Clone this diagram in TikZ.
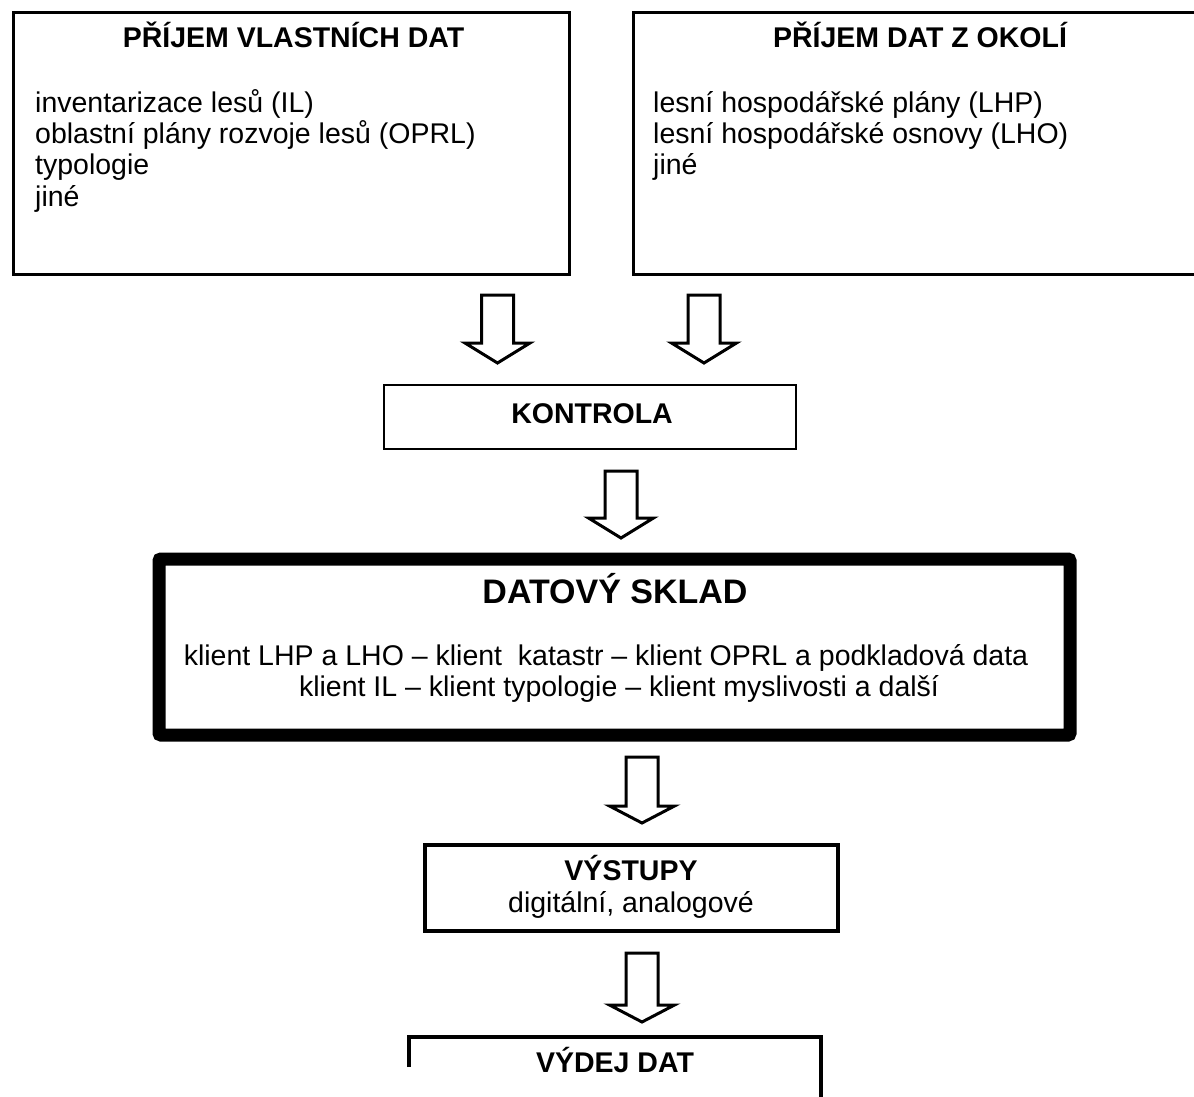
\documentclass[tikz,border=0pt]{standalone}
\usepackage{fontspec}
\setmainfont{Liberation Sans}
\begin{document}
\begin{tikzpicture}[x=1pt,y=-1pt,
  box/.style={draw=black,rectangle,inner sep=0pt,outer sep=0pt,anchor=north west},
  txt/.style={inner sep=0pt,font=\fontsize{28.5}{31}\selectfont},
  ttl/.style={inner sep=0pt,font=\fontsize{28.5}{31}\selectfont\bfseries},
  arrowline/.style={draw=black,line width=3pt,fill=white,line join=miter}]
\useasboundingbox (0,0) rectangle (1194,1097);
\fill[white] (0,0) rectangle (1194,1097);
\clip (0,0) rectangle (1194,1097);
\newcommand\blockarrow[5]{% center x, top, head base, tip, name
  \draw[arrowline] (#1-16,#2) -- (#1+16,#2) -- (#1+16,#3) -- (#1+32.5,#3)
     -- (#1,#4) -- (#1-32.5,#3) -- (#1-16,#3) -- cycle;
  \coordinate (#5) at (#1,#4);}
% top left box
\node[box,line width=3pt,minimum width=556pt,minimum height=261pt] (own) at (13,13) {};
\node[ttl,anchor=base] (ownT) at (293.5,48) {PŘÍJEM VLASTNÍCH DAT};
\node[txt,anchor=base west] (own1) at (35,113) {inventarizace lesů (IL)};
\node[txt,anchor=base west] (own2) at (35,144) {oblastní plány rozvoje lesů (OPRL)};
\node[txt,anchor=base west] (own3) at (35,175) {typologie};
\node[txt,anchor=base west] (own4) at (35,206) {jiné};
% top right box
\node[box,line width=3pt,minimum width=580pt,minimum height=261pt] (ext) at (633,13) {};
\node[ttl,anchor=base] (extT) at (920,48) {PŘÍJEM DAT Z OKOLÍ};
\node[txt,anchor=base west] (ext1) at (653,113) {lesní hospodářské plány (LHP)};
\node[txt,anchor=base west] (ext2) at (653,144) {lesní hospodářské osnovy (LHO)};
\node[txt,anchor=base west] (ext3) at (653,175) {jiné};
% kontrola
\node[box,line width=2.5pt,minimum width=412pt,minimum height=64pt] (kon) at (384,385) {};
\node[ttl,anchor=base] (konT) at (592,423) {KONTROLA};
% datovy sklad
\node[box,line width=13pt,minimum width=911pt,minimum height=176pt,rounded corners=2pt] (sklad) at (159,559) {};
\node[inner sep=0pt,font=\fontsize{34}{36}\selectfont\bfseries,anchor=base] (skladT) at (615,603) {DATOVÝ SKLAD};
\node[txt,anchor=base] (sklad1) at (606,665) {klient LHP a LHO – klient \ katastr – klient OPRL a podkladová data};
\node[txt,anchor=base] (sklad2) at (619,696) {klient IL – klient typologie – klient myslivosti a další};
% vystupy
\node[box,line width=4pt,minimum width=413pt,minimum height=86pt] (vys) at (425,845) {};
\node[ttl,anchor=base] (vysT) at (631,880) {VÝSTUPY};
\node[txt,anchor=base] (vys1) at (631,912) {digitální, analogové};
% vydej dat
\coordinate (vydL) at (409,1067);
\coordinate (vydR) at (821,1110);
\draw[line width=4pt] (vydL) -- (409,1037) -- (821,1037) -- (vydR);
\node[ttl,anchor=base] (vydT) at (615,1072) {VÝDEJ DAT};
% arrows
\blockarrow{497.5}{295}{343}{363}{a1}
\blockarrow{704}{295}{343}{363}{a2}
\blockarrow{621}{471}{518}{538}{a3}
\blockarrow{642}{757}{806}{823}{a4}
\blockarrow{642}{953}{1005}{1022}{a5}
\end{tikzpicture}
\end{document}
